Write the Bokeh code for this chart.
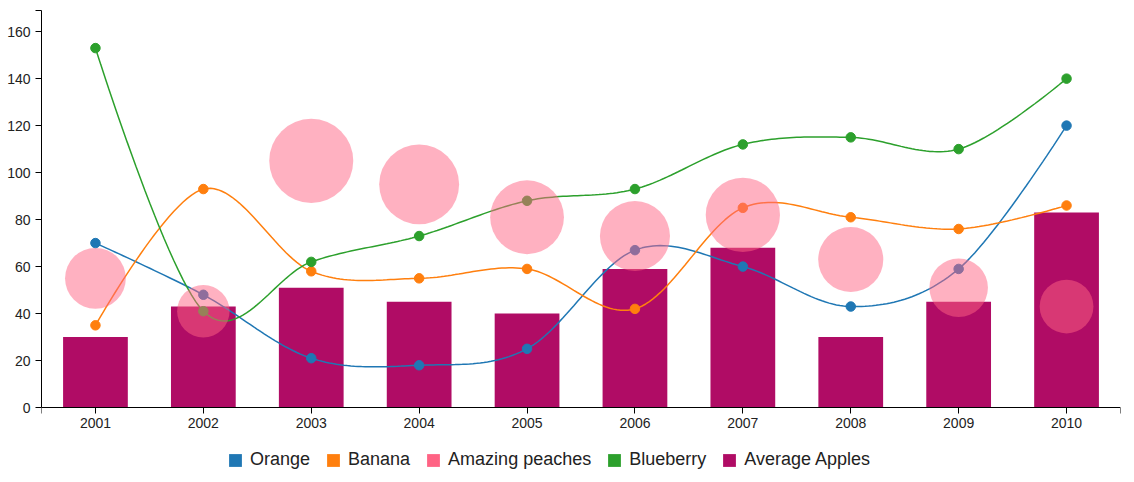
import numpy as np
from bokeh.plotting import figure
from bokeh.models import Range1d, FixedTicker, Legend, LegendItem
from bokeh.embed import file_html
from bokeh.resources import INLINE

# ---- data ----
years = [2001, 2002, 2003, 2004, 2005, 2006, 2007, 2008, 2009, 2010]
orange = [70, 48, 21, 18, 25, 67, 60, 43, 59, 120]
banana = [35, 93, 58, 55, 59, 42, 85, 81, 76, 86]
peaches = [55, 41, 105, 95, 81, 73, 82, 63, 51, 43]
blueberry = [153, 41, 62, 73, 88, 93, 112, 115, 110, 140]
apples = [30, 43, 51, 45, 40, 59, 68, 30, 45, 83]
y_ticks = [0, 20, 40, 60, 80, 100, 120, 140, 160]
series_names = ["Orange", "Banana", "Amazing peaches", "Blueberry", "Average Apples"]

C_ORANGE = "#1f77b4"
C_BANANA = "#ff7f0e"
C_PEACH = "#ff6384"
C_BLUE = "#2ca02c"
C_APPLE = "#b00c65"

X0, X1 = years[0] - 0.5, years[-1] + 0.5
Y_TOP = 169
Y_BOTTOM = -31.9   # room under the x axis for tick labels and legend

def cardinal(xs, ys, n=30, k=1.0 / 6.0):
    """d3.curveCardinal (tension 0) path through the data points."""
    P = np.column_stack([xs, ys]).astype(float)
    m = len(P)
    out = [P[0]]
    t = np.linspace(0, 1, n + 1)[1:, None]
    for i in range(m - 1):
        p1, p2 = P[i], P[i + 1]
        c1 = p1 + k * (p2 - P[i - 1]) if i > 0 else p1
        c2 = p2 - k * (P[i + 2] - p1) if i + 2 < m else p2
        seg = ((1 - t) ** 3) * p1 + 3 * ((1 - t) ** 2) * t * c1 + 3 * (1 - t) * t ** 2 * c2 + t ** 3 * p2
        out.extend(seg)
    out = np.array(out)
    return out[:, 0], out[:, 1]


p = figure(width=1134, height=482, output_backend="svg", toolbar_location=None,
           x_range=Range1d(X0, X1), y_range=Range1d(Y_BOTTOM, Y_TOP),
           min_border_left=41, min_border_right=14, min_border_top=10, min_border_bottom=0)
p.outline_line_color = None
p.grid.visible = False
p.background_fill_color = "white"
p.border_fill_color = "white"

# axes
for ax in (p.xaxis[0], p.yaxis[0]):
    ax.axis_line_color = "black"
    ax.major_tick_line_color = "black"
    ax.minor_tick_line_color = None
    ax.major_tick_out = 6
    ax.major_tick_in = 0
    ax.major_label_text_font = "Liberation Sans"
    ax.major_label_text_font_size = "14px"
    ax.major_label_text_color = "#222222"

p.xaxis.fixed_location = 0
p.xaxis.ticker = FixedTicker(ticks=years + [X0, X1])
p.xaxis.major_label_overrides = {X0: "", X1: ""}
p.xaxis.major_label_standoff = 4
p.yaxis.bounds = (0, Y_TOP)
p.yaxis.ticker = FixedTicker(ticks=y_ticks + [Y_TOP])
p.yaxis.major_label_overrides = {Y_TOP: ""}
p.yaxis.major_label_standoff = 5

# bars
r_apples = p.vbar(x=years, top=apples, width=0.6, color=C_APPLE, line_color=None)

# lines
for vals, col in ((orange, C_ORANGE), (banana, C_BANANA), (blueberry, C_BLUE)):
    sx, sy = cardinal(years, vals)
    p.line(sx, sy, line_color=col, line_width=1.5)
    p.scatter(years, vals, size=9.5, fill_color=col, line_color=col)

# bubbles (radius grows with sqrt of value)
sizes = [2 * 4.1 * np.sqrt(v) for v in peaches]
p.scatter(years, peaches, size=sizes, fill_color=C_PEACH, fill_alpha=0.5, line_color=None)

# legend swatches: zero-height bars (invisible on the plot, filled squares in the legend)
proxies = {}
for name, col in zip(series_names[:4], [C_ORANGE, C_BANANA, C_PEACH, C_BLUE]):
    proxies[name] = p.vbar(x=years, top=0, bottom=0, width=0.6, fill_color=col, line_color=None)
proxies["Average Apples"] = r_apples

items = [LegendItem(label=n, renderers=[proxies[n]]) for n in series_names]
legend = Legend(items=items, orientation="horizontal", location=(186, 12),
                glyph_width=16, glyph_height=16, label_standoff=7, spacing=15,
                padding=0, margin=0, border_line_color=None, background_fill_alpha=0,
                label_text_font="Liberation Sans", label_text_font_size="18px",
                label_text_color="#222222")
p.add_layout(legend, "center")

open("out.html", "w").write(file_html(p, INLINE))
